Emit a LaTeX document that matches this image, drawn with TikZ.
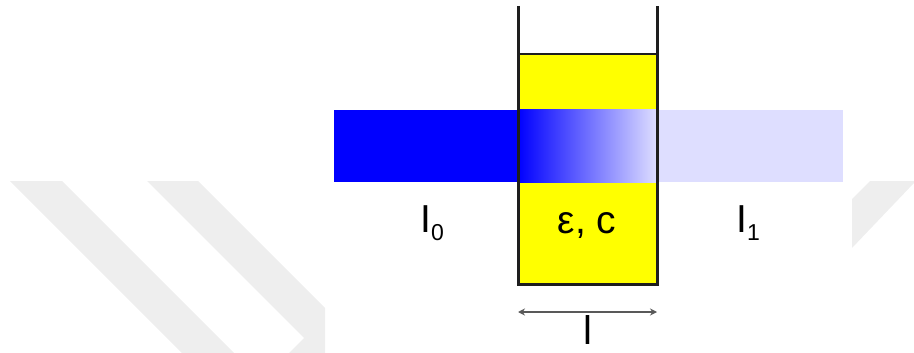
\documentclass[tikz,border=0pt]{standalone}
\usepackage{fontspec}
\setmainfont{Liberation Sans}
\usetikzlibrary{arrows.meta}
\definecolor{beamblue}{RGB}{0,0,255}
\definecolor{beamlight}{RGB}{222,222,255}
\definecolor{wmgray}{RGB}{238,238,238}
\definecolor{wallcol}{RGB}{30,30,30}
\definecolor{cellyellow}{RGB}{255,255,0}
\begin{document}
\begin{tikzpicture}[x=1pt,y=-1pt,
  lbl/.style={font=\fontsize{39}{39}\selectfont, inner sep=0pt, anchor=base},
  wallline/.style={draw=wallcol, line width=3pt},
  dimarrow/.style={draw=black!65, line width=1.2pt, {Stealth[length=7pt,width=7pt]}-{Stealth[length=7pt,width=7pt]}}]
\useasboundingbox (0,0) rectangle (914,353);
% watermark
\begin{scope}
  \clip (0,0) rectangle (325,353) (852,0) rectangle (914,353);
  \fill[wmgray] (10,181) -- (62,181) -- (234,353) -- (182,353) -- cycle;
  \fill[wmgray] (147,181) -- (198,181) -- (370,353) -- (289,353) -- (304,338) -- cycle;
  \fill[wmgray] (870,181) -- (914,181) -- (914,183) -- (852,248) -- (852,199) -- cycle;
\end{scope}
% cuvette liquid
\fill[cellyellow] (518,54) rectangle (657,284);
% beam
\fill[beamblue] (334,110) rectangle (518,182);
\shade[left color=beamblue, right color=beamlight] (518,110) rectangle (657,182);
\fill[beamlight] (657,110) rectangle (843,182);
% cuvette walls
\draw[wallline] (518,6) -- (518,284) -- (657,284) -- (657,6);
\draw[draw=wallcol, line width=2.5pt] (518,54) -- (657,54);
% labels
\node[lbl] (I0) at (432,232) {I\raisebox{-8pt}{\fontsize{23}{23}\selectfont 0}};
\node[lbl] (I1) at (748,232) {I\raisebox{-8pt}{\fontsize{23}{23}\selectfont 1}};
\node[lbl] (ec) at (587,233) {ε, c};
% path length
\coordinate (aL) at (518,312);
\coordinate (aR) at (657,312);
\draw[dimarrow] (aL) -- (aR);
\node[lbl, font=\fontsize{40}{40}\selectfont] (len) at (588,344) {l};
\end{tikzpicture}
\end{document}
